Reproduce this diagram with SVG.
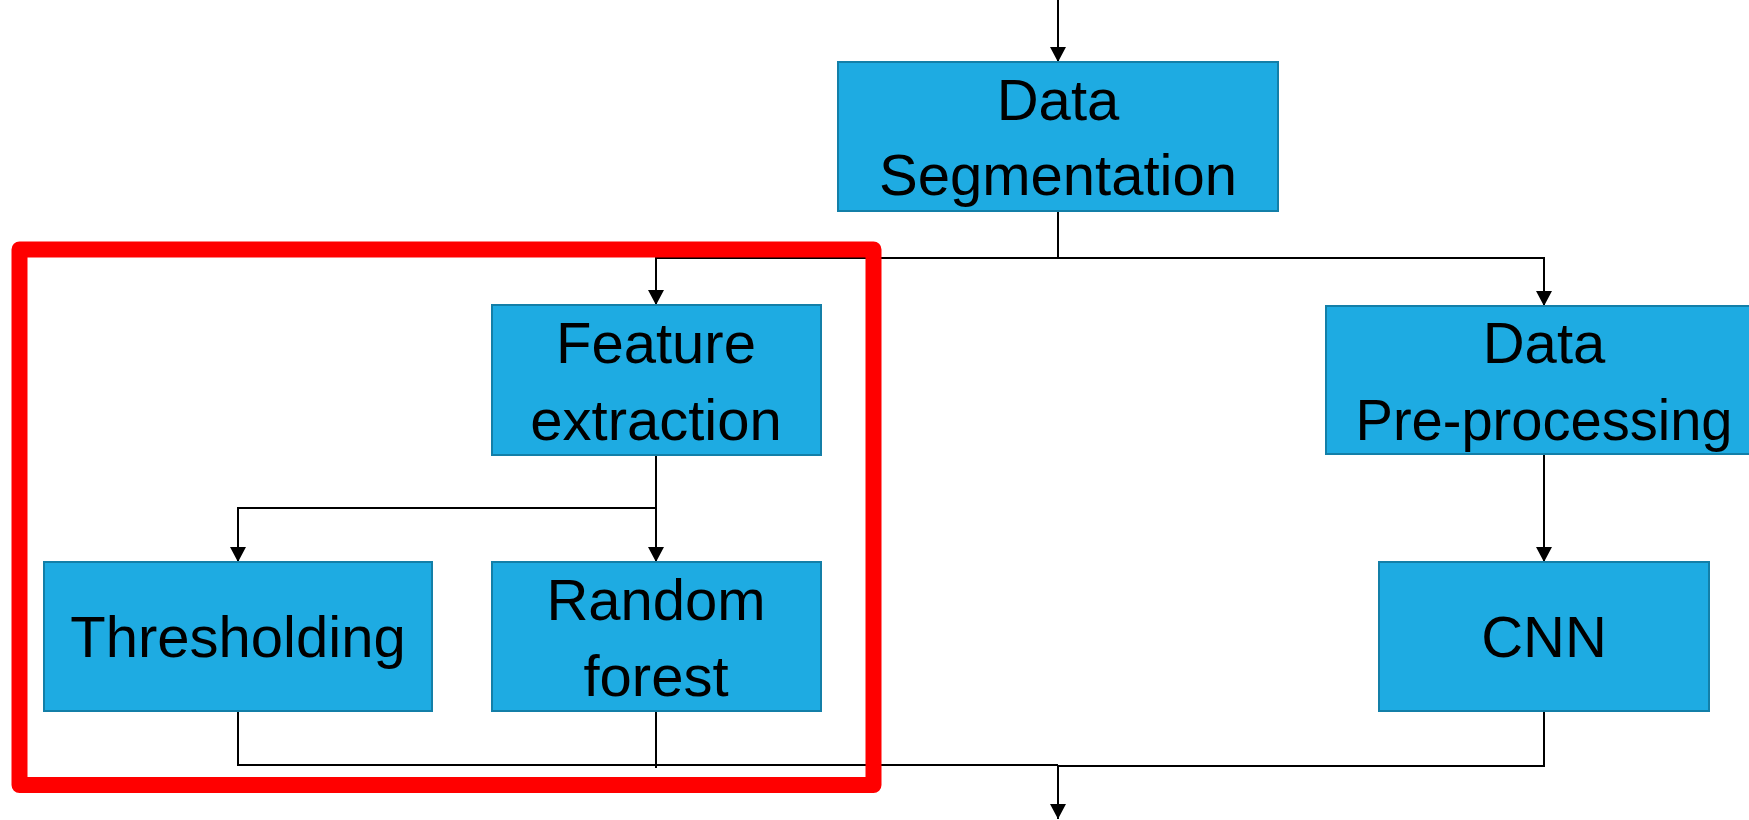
<svg xmlns="http://www.w3.org/2000/svg" width="1749" height="820" viewBox="0 0 1749 820">
  <style>
    .box { fill: #1EABE2; stroke: #137FA8; stroke-width: 2; }
    .lbl { font-family: "Liberation Sans", Arial, sans-serif; font-size: 58px; fill: #000; text-anchor: middle; }
    .wire { fill: none; stroke: #000; stroke-width: 2; }
    .arrow { fill: none; stroke: #000; stroke-width: 2; marker-end: url(#head); }
  </style>
  <defs>
    <marker id="head" markerUnits="userSpaceOnUse" markerWidth="16" markerHeight="16" viewBox="0 0 16 16" refX="15" refY="8" orient="auto">
      <path d="M0,0 L15,8 L0,16 Z" fill="#000"/>
    </marker>
  </defs>
  <rect width="1749" height="820" fill="#fff"/>

  <g id="connectors">
    <!-- input into segmentation -->
    <line class="arrow" x1="1058" y1="0" x2="1058" y2="62"/>
    <!-- segmentation split -->
    <line class="wire" x1="1058" y1="211" x2="1058" y2="258"/>
    <polyline class="arrow" points="1058,258 656,258 656,305"/>
    <polyline class="arrow" points="1058,258 1544,258 1544,306"/>
    <!-- feature extraction split -->
    <line class="wire" x1="656" y1="455" x2="656" y2="508"/>
    <polyline class="arrow" points="656,508 238,508 238,562"/>
    <line class="arrow" x1="656" y1="508" x2="656" y2="562"/>
    <!-- pre-processing to CNN -->
    <line class="arrow" x1="1544" y1="454" x2="1544" y2="562"/>
    <!-- merge to output -->
    <polyline class="wire" points="238,711 238,765 1058,765"/>
    <line class="wire" x1="656" y1="711" x2="656" y2="768"/>
    <polyline class="wire" points="1544,711 1544,766 1058,766"/>
    <line class="arrow" x1="1058" y1="765" x2="1058" y2="819"/>
  </g>

  <g id="data-segmentation">
    <rect class="box" x="838" y="62" width="440" height="149"/>
    <text class="lbl" x="1058" y="120">Data</text>
    <text class="lbl" x="1058" y="195">Segmentation</text>
  </g>

  <g id="feature-extraction">
    <rect class="box" x="492" y="305" width="329" height="150"/>
    <text class="lbl" x="656" y="363">Feature</text>
    <text class="lbl" x="656" y="440">extraction</text>
  </g>

  <g id="thresholding">
    <rect class="box" x="44" y="562" width="388" height="149"/>
    <text class="lbl" x="238" y="657">Thresholding</text>
  </g>

  <g id="random-forest">
    <rect class="box" x="492" y="562" width="329" height="149"/>
    <text class="lbl" x="656" y="620">Random</text>
    <text class="lbl" x="656" y="696">forest</text>
  </g>

  <g id="data-preprocessing">
    <rect class="box" x="1326" y="306" width="436" height="148"/>
    <text class="lbl" x="1544" y="363" >Data</text>
    <text class="lbl" x="1544" y="440" textLength="377" lengthAdjust="spacingAndGlyphs">Pre-processing</text>
  </g>

  <g id="cnn">
    <rect class="box" x="1379" y="562" width="330" height="149"/>
    <text class="lbl" x="1544" y="657">CNN</text>
  </g>

  <g id="highlight">
    <rect x="19.5" y="249.5" width="854" height="535.5" fill="none" stroke="#FF0000" stroke-width="16" stroke-linejoin="round"/>
  </g>
</svg>
